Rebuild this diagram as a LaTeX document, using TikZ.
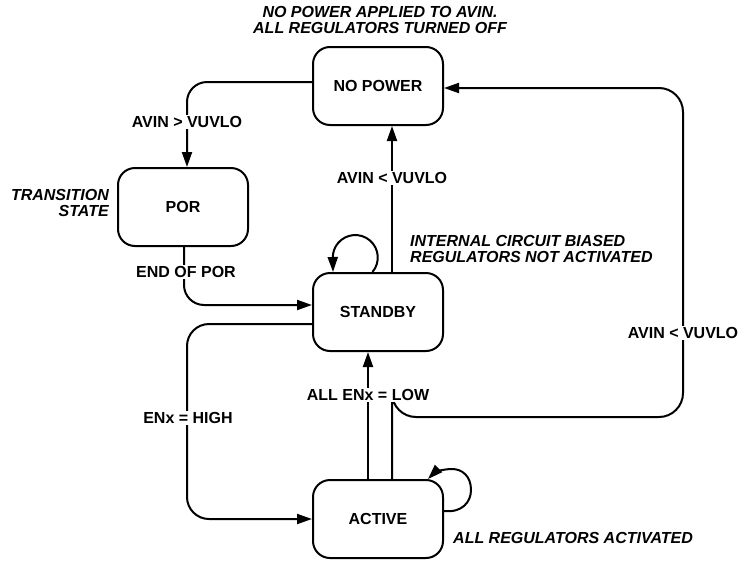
\documentclass[tikz,border=0pt]{standalone}
\usepackage{fontspec}
\setmainfont{Liberation Sans}
\usetikzlibrary{arrows.meta,calc}
\begin{document}
\begin{tikzpicture}[x=1pt,y=-1pt,
  state/.style={draw, line width=2pt, rounded corners=17pt, minimum width=130pt, minimum height=78pt, font=\fontsize{16}{16}\selectfont\bfseries, inner sep=0pt},
  conn/.style={line width=2pt, -{Triangle[length=15pt,width=10pt]}},
  lab/.style={fill=white, inner sep=1.5pt, font=\fontsize{16}{16}\selectfont\bfseries},
  note/.style={inner sep=0pt, font=\fontsize{16}{16}\selectfont\bfseries\itshape}]
\useasboundingbox (0,0) rectangle (739,560);
% states
\node[state] (np)  at (378,86)  {NO POWER};
\node[state] (por) at (183,207) {POR};
\node[state] (sb)  at (378,312) {STANDBY};
\node[state] (act) at (378,519) {ACTIVE};
% connectors
\draw[conn, rounded corners=20pt] ($(np.west)+(0,-4)$) -| ($(por.north)+(4,0)$);
\draw[conn, rounded corners=20pt] ($(por.south)+(1,0)$) |- ($(sb.west)+(0,-7)$);
\draw[conn] ($(sb.north)+(14,0)$) -- ($(np.south)+(14,0)$);
\draw[conn, rounded corners=22pt] ($(sb.west)+(0,12)$) -| (187,470) |- (act.west);
\draw[conn] ($(act.north)+(-10,0)$) -- ($(sb.south)+(-10,0)$);
\coordinate (c1) at (392,417);
\coordinate (c2) at (683,88);
\draw[conn, rounded corners=24pt] ($(act.north)+(14,0)$) |- (c1) -| (c2) -- ($(np.east)+(0,2)$);
% self loops
\draw[conn] ($(sb.north)+(-5.5,0)$) arc[start angle=40, end angle=-180, radius=22.5] -- ($(sb.north)+(-45,0)$);
\coordinate (la) at (471,490);
\coordinate (lb) at (452,469);
\coordinate (lt) at (428,479);
\draw[conn] ($(act.east)+(0,-8)$) .. controls (462,513) and (471,502) .. (la)
  .. controls (471,476) and (462,469) .. (lb)
  .. controls (442,469) and (434,473) .. (lt);
% labels
\node[lab] (l1) at (187,122) {AVIN > VUVLO};
\node[lab] (l2) at (392,178) {AVIN < VUVLO};
\node[lab] (l3) at (186,272) {END OF POR};
\node[lab] (l4) at (188,418) {ENx = HIGH};
\node[lab] (l5) at (368,395) {ALL ENx = LOW};
\node[lab] (l6) at (683,333) {AVIN < VUVLO};
% notes
\node[note, align=center] (n1) at (380,20) {NO POWER APPLIED TO AVIN.\\ALL REGULATORS TURNED OFF};
\node[note, align=right, anchor=east] (n2) at (109,203) {TRANSITION\\STATE};
\node[note, align=left, anchor=west] (n3) at (410,249) {INTERNAL CIRCUIT BIASED\\REGULATORS NOT ACTIVATED};
\node[note, anchor=west] (n4) at (453,538) {ALL REGULATORS ACTIVATED};
\end{tikzpicture}
\end{document}
